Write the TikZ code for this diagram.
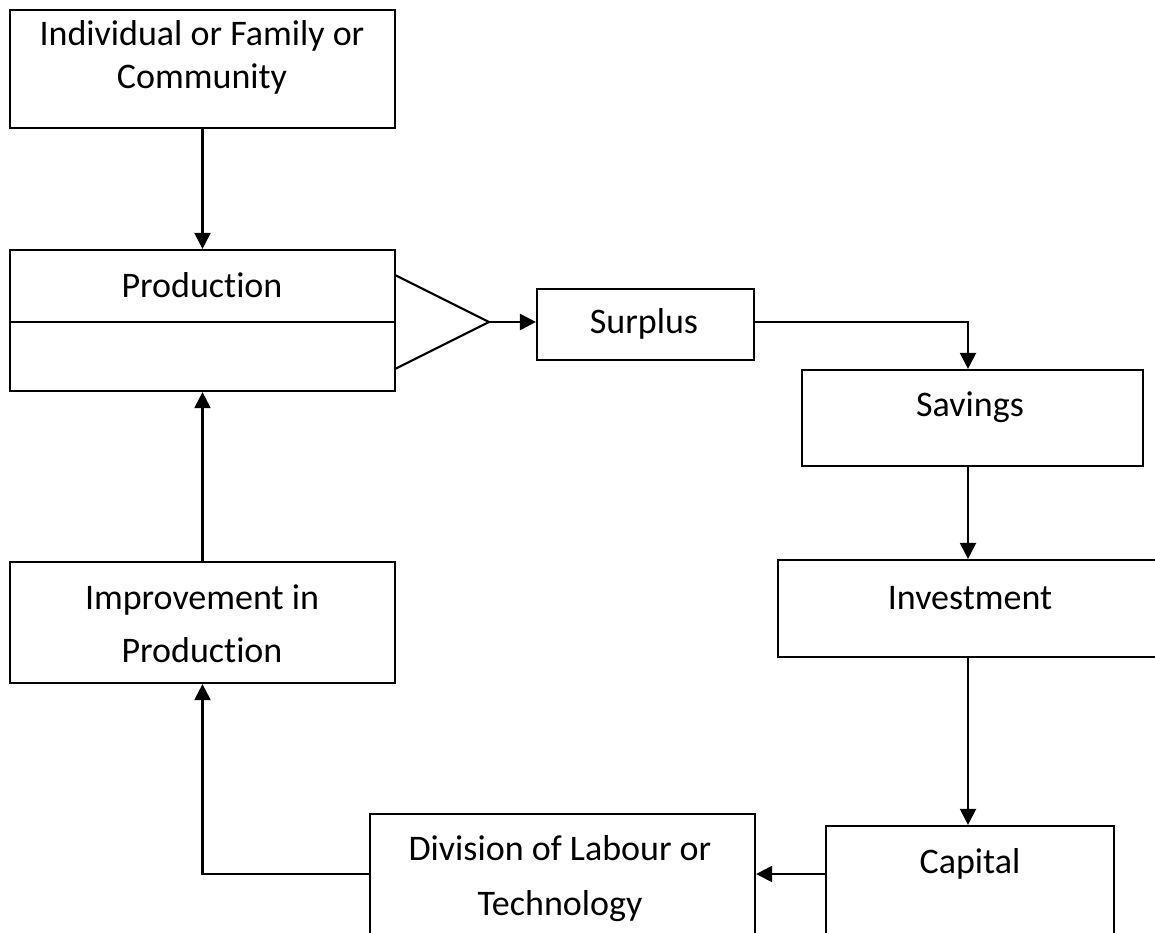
\documentclass[tikz,border=0pt]{standalone}
\usepackage{fontspec}
\setmainfont{Carlito}[Ligatures={NoCommon,NoContextual}]
\usetikzlibrary{positioning, calc}
\usetikzlibrary{arrows.meta}

\begin{document}
\begin{tikzpicture}[x=1pt,y=-1pt,line width=2.2pt,draw=black!100]

	\def \col{968}
	\def \low{874}
	\tikzstyle{box}=[draw,rectangle,inner sep=0pt]
	\tikzstyle{txt}=[inner sep=0pt,anchor=base,align=center,font=\fontsize{36}{43}\selectfont]
	\tikzstyle{arr}=[-{Triangle[length=16pt,width=16pt]}]

	\useasboundingbox (0,0) rectangle (1155,932);
	\clip (0,0) rectangle (1155,932);
	\coordinate (col) at (\col,0);
	\coordinate (low) at (0,\low);

	% left column
	\node[box,minimum width=385pt,minimum height=118pt] (indiv)	at (202.5,69)	{};
	\node[box,minimum width=385pt,minimum height=141pt] (prod)	at (202.5,320.5)	{};
	\node[box,minimum width=385pt,minimum height=121pt] (improve)	at (202.5,622.5)	{};

	% right column
	\node[box,minimum width=217pt,minimum height=71pt] (surplus)	at (645.5,324.5)	{};
	\node[box,minimum width=341pt,minimum height=96pt] (savings)	at (972.5,418)	{};
	\node[box,minimum width=392pt,minimum height=97pt] (invest)	at (974,608.5)	{};
	\node[box,minimum width=288pt,minimum height=154pt] (capital)	at (970,903)	{};
	\node[box,minimum width=385pt,minimum height=166pt] (division)	at (562.5,897)	{};

	% labels
	\node[txt,font=\fontsize{36}{42.5}\selectfont] (indiv-txt) at (202,88.3) {Individual or Family or\\Community};
	\node[txt] (prod-txt)	at (202,297.3)	{Production};
	\node[txt] (surplus-txt)	at (644,333.3)	{Surplus};
	\node[txt] (savings-txt)	at (970,416)	{Savings};
	\node[txt] (invest-txt)	at (970,609)	{Investment};
	\node[txt] (capital-txt)	at (970,873)	{Capital};
	\node[txt,font=\fontsize{36}{53}\selectfont] (improve-txt) at (202,662) {Improvement in\\Production};
	\node[txt,font=\fontsize{36}{55}\selectfont] (division-txt) at (560,915) {Division of Labour or\\Technology};

	% production split and output
	\draw (prod.west |- 0,322) -- (prod.east |- 0,322);
	\coordinate (tip) at (489,322);
	\draw (395,275) -- (tip) -- (395,369);
	\draw[arr,line width=2.8pt] (tip) -- (surplus.west |- tip);

	% connectors
	\draw[arr] (indiv.south) -- (prod.north);
	\draw[arr] (surplus.east |- tip) -| (savings.north -| col);
	\draw[arr] (savings.south -| col) -- (invest.north -| col);
	\draw[arr] (invest.south -| col) -- (capital.north -| col);
	\draw[arr] (capital.west |- low) -- (division.east |- low);
	\draw[arr] (division.west |- low) -| (improve.south);
	\draw[arr] (improve.north) -- (prod.south);
\end{tikzpicture}
\end{document}
